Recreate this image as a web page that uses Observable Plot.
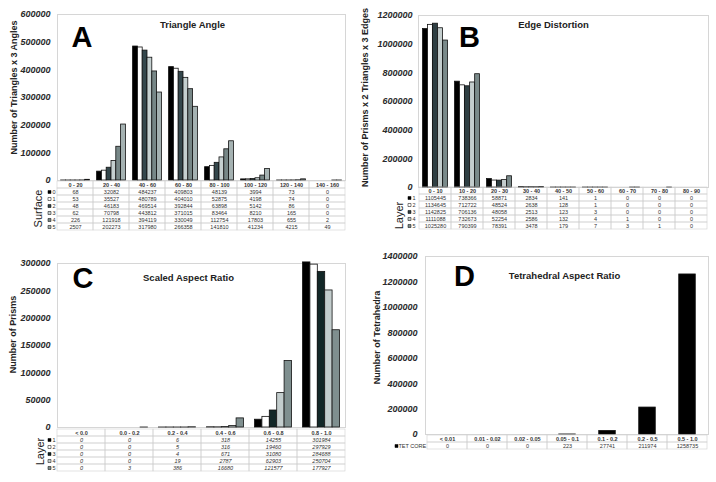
<!DOCTYPE html>
<html><head><meta charset="utf-8">
<script src="https://cdn.jsdelivr.net/npm/d3@7"></script>
<script src="https://cdn.jsdelivr.net/npm/@observablehq/plot@0.6"></script>
<style>
html,body{margin:0;padding:0;background:#fff;}
#chart{position:relative;width:716px;height:482px;overflow:hidden;font-family:"Liberation Sans",Arial,sans-serif;}
#chart > div{position:absolute;}
#chart svg{overflow:visible;background:transparent;}
</style></head><body><div id="chart"></div>
<script>
// ---------- Panel A: Triangle Angle ----------
const angleCats = ["0 - 20","20 - 40","40 - 60","60 - 80","80 - 100","100 - 120","120 - 140","140 - 160"];
const angleKeys = ["0","1","2","3","4","5"];
const angle0 = [68, 32082, 484237, 409803, 48139, 3994, 73, 0];
const angle1 = [53, 35527, 480789, 404010, 52875, 4198, 74, 0];
const angle2 = [48, 46183, 469514, 392844, 63898, 5142, 86, 0];
const angle3 = [62, 70798, 443812, 371015, 83464, 8210, 165, 0];
const angle4 = [226, 121918, 394119, 330049, 112754, 17803, 655, 2];
const angle5 = [2507, 202273, 317980, 266358, 141810, 41234, 4215, 49];
const angleColors = ["#000000","#ffffff","#34474c","#c5d0d0","#778787","#a5b2b2"];

// ---------- Panel B: Edge Distortion ----------
const edgeCats = ["0 - 10","10 - 20","20 - 30","30 - 40","40 - 50","50 - 60","60 - 70","70 - 80","80 - 90"];
const edgeKeys = ["1","2","3","4","5"];
const edge1 = [1105445, 738366, 58871, 2834, 141, 1, 0, 0, 0];
const edge2 = [1134645, 712722, 48524, 2638, 128, 1, 0, 0, 0];
const edge3 = [1142825, 706136, 48058, 2513, 123, 3, 0, 0, 0];
const edge4 = [1111088, 732673, 52254, 2586, 132, 4, 1, 0, 0];
const edge5 = [1025280, 790399, 78391, 3478, 179, 7, 3, 1, 0];
const layerColors = ["#000000","#ffffff","#2f3f43","#c3cdcd","#7a8a8a"];

// ---------- Panel C: Scaled Aspect Ratio ----------
const scaledCats = ["< 0.0","0.0 - 0.2","0.2 - 0.4","0.4 - 0.6","0.6 - 0.8","0.8 - 1.0"];
const scaledKeys = ["1","2","3","4","5"];
const scaled1 = [0, 0, 6, 318, 14255, 301984];
const scaled2 = [0, 0, 5, 316, 19460, 297929];
const scaled3 = [0, 0, 4, 671, 31080, 284688];
const scaled4 = [0, 0, 19, 2787, 62903, 250704];
const scaled5 = [0, 3, 386, 16680, 121577, 177927];
const scaledColors = ["#000000","#ffffff","#122727","#c3cdcd","#7f8f8f"];

// ---------- Panel D: Tetrahedral Aspect Ratio ----------
const tetCats = ["< 0.01","0.01 - 0.02","0.02 - 0.05","0.05 - 0.1","0.1 - 0.2","0.2 - 0.5","0.5 - 1.0"];
const tetKeys = ["TET CORE"];
const tetCore = [0, 0, 0, 223, 27741, 211974, 1258735];
const tetColors = ["#000000"];

const FONT = "Liberation Sans, Arial, sans-serif";
const chart = document.getElementById("chart");
function place(node, left, top) {
  const d = document.createElement("div");
  d.style.left = left + "px"; d.style.top = top + "px";
  d.appendChild(node); chart.appendChild(d);
}

function barChart(o) {
  const n = o.cats.length, k = o.values.length;
  const band = (o.width - o.ml - o.mr) / n;
  const gw = band * o.frac, bw = gw / k;
  const marks = [Plot.frame({stroke: "#d6d6d6", strokeWidth: 1})];
  o.values.forEach((vals, i) => {
    const data = o.cats.map((c, j) => ({cat: c, value: vals[j]})).filter(d => d.value > 0);
    const il = (band - gw) / 2 + i * bw;
    marks.push(Plot.barY(data, {x: "cat", y: "value", fill: o.colors[i], stroke: "#111", strokeWidth: 0.8,
      insetLeft: il, insetRight: band - il - bw}));
  });
  marks.push(Plot.text([o.title], {frameAnchor: "top", textAnchor: "middle", lineAnchor: "middle", dx: o.titleDx, dy: o.titleDy,
    fontSize: 9.5, fontWeight: "bold", fontStyle: "normal", fill: "#222"}));
  marks.push(Plot.text([o.letter], {frameAnchor: "top-left", textAnchor: "middle", lineAnchor: "middle", dx: o.letterDx, dy: o.letterDy,
    fontSize: 29, fontWeight: "bold", fontStyle: "normal", fill: "#000"}));
  marks.push(Plot.text([o.ylabel], {frameAnchor: "left", rotate: -90, textAnchor: "middle", lineAnchor: "middle", dx: o.ylabelDx, dy: o.ylabelDy,
    fontSize: 9, fontWeight: "bold", fontStyle: "normal", fill: "#222"}));
  return Plot.plot({
    width: o.width, height: o.height, marginLeft: o.ml, marginRight: o.mr, marginTop: o.mt, marginBottom: o.mb,
    x: {domain: o.cats, padding: 0, axis: null},
    y: {domain: o.yDomain, ticks: o.yTicks, tickFormat: d => String(d), tickSize: 0, tickPadding: o.tickPad, label: null},
    style: {fontFamily: FONT, fontSize: "9px", fontWeight: "bold", fontStyle: "italic", color: "#2a2a2a", background: "transparent", overflow: "visible"},
    marks
  });
}

function tableChart(o) {
  const keys = o.rowKeys;
  const header = o.cats.map(c => ({cat: c, row: "hdr", text: c}));
  const body = [];
  keys.forEach((k, r) => o.cats.forEach((c, j) => body.push({cat: c, row: k, text: String(o.values[r][j])})));
  const marks = [
    Plot.cell([...header, ...body], {x: "cat", y: "row", fill: "none", stroke: "#d0d0d0", strokeWidth: 0.6}),
    Plot.text(header, {x: "cat", y: "row", text: "text", fontWeight: "bold", fill: "#333"}),
    Plot.text(body, {x: "cat", y: "row", text: "text", fontStyle: o.italic ? "italic" : "normal", fill: "#333"})
  ];
  keys.forEach((k, i) => {
    marks.push(Plot.dot([k], {y: d => d, frameAnchor: "left", dx: o.swatchDx, symbol: "square", r: 1.7,
      fill: o.colors[i], stroke: "#000", strokeWidth: 0.5}));
  });
  marks.push(Plot.text(keys, {y: d => d, text: d => d, frameAnchor: "left", textAnchor: "start", dx: o.keyDx, fill: "#333"}));
  if (o.label) marks.push(Plot.text([o.label], {frameAnchor: "left", rotate: -90, textAnchor: "middle", lineAnchor: "middle",
    dx: o.labelDx, dy: o.labelDy, fontSize: 11, fill: "#222"}));
  return Plot.plot({
    width: o.width, height: o.height, marginLeft: o.ml, marginRight: o.mr, marginTop: 0, marginBottom: 0,
    x: {domain: o.cats, padding: 0, axis: null},
    y: {domain: ["hdr", ...keys], padding: 0, axis: null},
    style: {fontFamily: FONT, fontSize: "5.5px", fontWeight: "normal", fontStyle: "normal", background: "transparent", overflow: "visible"},
    marks
  });
}

// Panel A
place(barChart({cats: angleCats, values: [angle0, angle1, angle2, angle3, angle4, angle5], colors: angleColors,
  width: 355, height: 183, ml: 57, mr: 10, mt: 14, mb: 3, yDomain: [0, 600000], yTicks: 6, tickPad: 7, frac: 0.8,
  title: "Triangle Angle", titleDx: -9, titleDy: 10, letter: "A", letterDx: 24.5, letterDy: 23.5,
  ylabel: "Number of Triangles x 3 Angles", ylabelDx: -43, ylabelDy: -10}), 0, 0);
place(tableChart({cats: angleCats, rowKeys: angleKeys, values: [angle0, angle1, angle2, angle3, angle4, angle5], colors: angleColors,
  width: 355, height: 53, ml: 57, mr: 10, swatchDx: -8, keyDx: -5, label: "Surface", labelDx: -19, labelDy: 2.5}), 0, 179);

// Panel B
place(barChart({cats: edgeCats, values: [edge1, edge2, edge3, edge4, edge5], colors: layerColors,
  width: 356, height: 190, ml: 58, mr: 8, mt: 15, mb: 3, yDomain: [0, 1200000], yTicks: 6, tickPad: 6, frac: 0.78,
  title: "Edge Distortion", titleDx: -10, titleDy: 9, letter: "B", letterDx: 51, letterDy: 22.5,
  ylabel: "Number of Prisms x 2 Triangles x 3 Edges", ylabelDx: -53, ylabelDy: -4}), 360, 0);
place(tableChart({cats: edgeCats, rowKeys: edgeKeys, values: [edge1, edge2, edge3, edge4, edge5], colors: layerColors,
  width: 356, height: 44, ml: 58, mr: 8, swatchDx: -9, keyDx: -6, label: "Layer", labelDx: -19, labelDy: 7}), 360, 186);

// Panel C
place(barChart({cats: scaledCats, values: [scaled1, scaled2, scaled3, scaled4, scaled5], colors: scaledColors,
  width: 355, height: 180, ml: 57, mr: 10, mt: 13, mb: 3, yDomain: [0, 300000], yTicks: 6, tickPad: 7, frac: 0.77,
  title: "Scaled Aspect Ratio", titleDx: -13, titleDy: 14, letter: "C", letterDx: 25.5, letterDy: 15.5,
  ylabel: "Number of Prisms", ylabelDx: -44, ylabelDy: -11}), 0, 250);
place(tableChart({cats: scaledCats, rowKeys: scaledKeys, values: [scaled1, scaled2, scaled3, scaled4, scaled5], colors: scaledColors,
  width: 355, height: 45, ml: 57, mr: 10, italic: true, swatchDx: -8, keyDx: -5, label: "Layer", labelDx: -17, labelDy: 1.5}), 0, 427);

// Panel D
place(barChart({cats: tetCats, values: [tetCore], colors: tetColors,
  width: 356, height: 192, ml: 65, mr: 8, mt: 11, mb: 3, yDomain: [0, 1400000], yTicks: 7, tickPad: 8, frac: 0.42,
  title: "Tetrahedral Aspect Ratio", titleDx: -2.5, titleDy: 19, letter: "D", letterDx: 39, letterDy: 20.5,
  ylabel: "Number of Tetrahedra", ylabelDx: -48, ylabelDy: -8}), 360, 245);
place(tableChart({cats: tetCats, rowKeys: tetKeys, values: [tetCore], colors: tetColors,
  width: 356, height: 14, ml: 65, mr: 8, swatchDx: -29, keyDx: -27}), 360, 435);
</script></body></html>
